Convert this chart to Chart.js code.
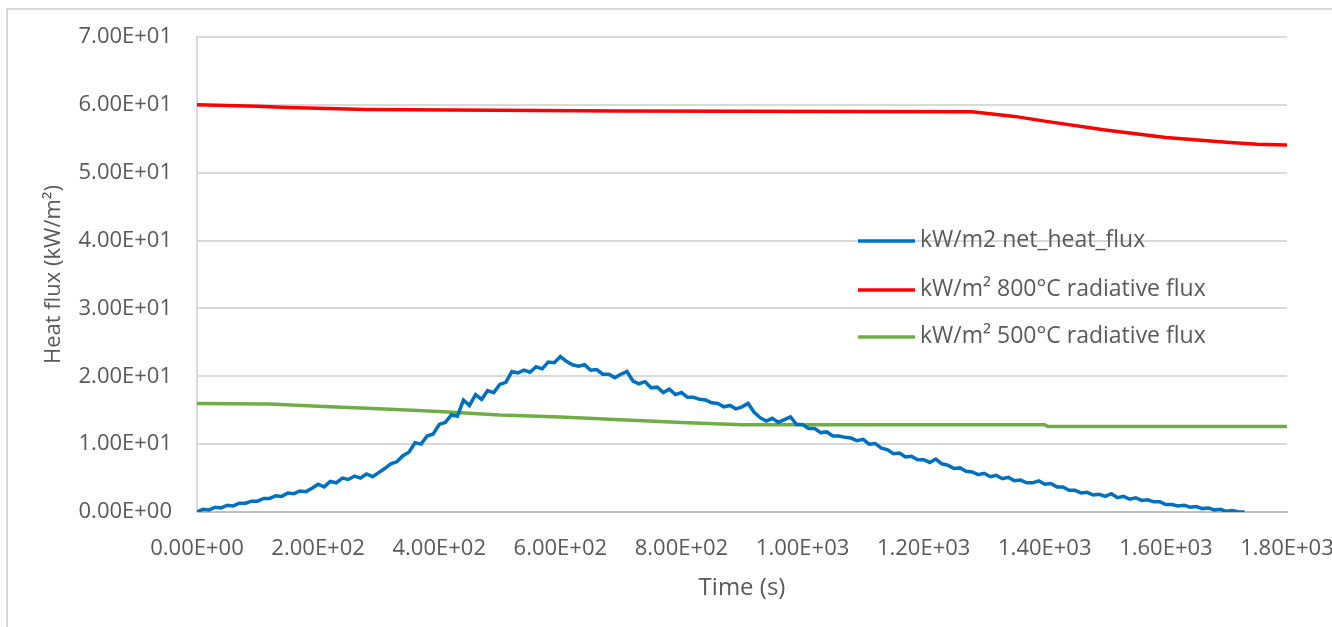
<!DOCTYPE html>
<html>
<head>
<meta charset="utf-8">
<script src="https://cdn.jsdelivr.net/npm/chart.js@4/dist/chart.umd.min.js"></script>
<style>
  html, body { margin: 0; padding: 0; background: #fff; overflow: hidden; }
  #wrap { position: relative; width: 1332px; height: 627px; }
  #frame { position: absolute; left: 6px; top: 8px; width: 1340px; height: 640px;
           border-left: 2px solid #d9d9d9; border-top: 2px solid #d9d9d9; }
  #myChart { position: absolute; left: 0; top: 0; }
</style>
</head>
<body>
<div id="wrap">
  <div id="frame"></div>
  <canvas id="myChart" width="1332" height="627"></canvas>
</div>
<script>
// Data

// net heat flux, every 10 s
const timeNet = [
  0, 10, 20, 30, 40, 50, 60, 70, 80, 90,
  100, 110, 120, 130, 140, 150, 160, 170, 180, 190,
  200, 210, 220, 230, 240, 250, 260, 270, 280, 290,
  300, 310, 320, 330, 340, 350, 360, 370, 380, 390,
  400, 410, 420, 430, 440, 450, 460, 470, 480, 490,
  500, 510, 520, 530, 540, 550, 560, 570, 580, 590,
  600, 610, 620, 630, 640, 650, 660, 670, 680, 690,
  700, 710, 720, 730, 740, 750, 760, 770, 780, 790,
  800, 810, 820, 830, 840, 850, 860, 870, 880, 890,
  900, 910, 920, 930, 940, 950, 960, 970, 980, 990,
  1000, 1010, 1020, 1030, 1040, 1050, 1060, 1070, 1080, 1090,
  1100, 1110, 1120, 1130, 1140, 1150, 1160, 1170, 1180, 1190,
  1200, 1210, 1220, 1230, 1240, 1250, 1260, 1270, 1280, 1290,
  1300, 1310, 1320, 1330, 1340, 1350, 1360, 1370, 1380, 1390,
  1400, 1410, 1420, 1430, 1440, 1450, 1460, 1470, 1480, 1490,
  1500, 1510, 1520, 1530, 1540, 1550, 1560, 1570, 1580, 1590,
  1600, 1610, 1620, 1630, 1640, 1650, 1660, 1670, 1680, 1690,
  1700, 1710, 1720, 1730
];
const netHeatFlux = [
  0.0, 0.4, 0.3, 0.7, 0.6, 1.0, 0.9, 1.3, 1.3, 1.6,
  1.6, 2.0, 2.0, 2.4, 2.3, 2.8, 2.7, 3.1, 3.0, 3.5,
  4.1, 3.7, 4.5, 4.3, 5.0, 4.8, 5.3, 5.0, 5.6, 5.2,
  5.8, 6.4, 7.1, 7.4, 8.3, 8.8, 10.2, 10.0, 11.2, 11.5,
  12.9, 13.2, 14.3, 14.1, 16.5, 15.7, 17.3, 16.6, 17.9, 17.6,
  18.8, 19.1, 20.7, 20.5, 20.9, 20.6, 21.4, 21.1, 22.1, 22.0,
  22.9, 22.2, 21.7, 21.5, 21.7, 20.9, 21.0, 20.3, 20.3, 19.8,
  20.3, 20.7, 19.3, 18.9, 19.2, 18.3, 18.4, 17.6, 18.1, 17.3,
  17.6, 16.9, 16.9, 16.6, 16.5, 16.1, 16.0, 15.5, 15.7, 15.2,
  15.5, 16.0, 14.7, 13.9, 13.4, 13.8, 13.2, 13.6, 14.0, 12.9,
  12.9, 12.3, 12.3, 11.7, 11.8, 11.2, 11.2, 11.0, 10.9, 10.5,
  10.7, 10.0, 10.1, 9.4, 9.2, 8.6, 8.7, 8.1, 8.2, 7.7,
  7.7, 7.3, 7.8, 7.1, 6.9, 6.4, 6.5, 6.0, 5.9, 5.5,
  5.7, 5.2, 5.4, 4.9, 5.1, 4.6, 4.7, 4.3, 4.3, 4.6,
  4.1, 4.2, 3.7, 3.7, 3.2, 3.2, 2.8, 2.9, 2.5, 2.6,
  2.3, 2.7, 2.1, 2.3, 1.9, 2.1, 1.7, 1.8, 1.5, 1.5,
  1.1, 1.1, 0.9, 1.0, 0.7, 0.8, 0.5, 0.6, 0.3, 0.4,
  0.1, 0.2, 0.0, 0.0
];

// 800 C radiative flux
const time800 = [0, 100, 150, 280, 700, 1280, 1350, 1400, 1500, 1600, 1700, 1750, 1800];
const flux800 = [60.0, 59.8, 59.6, 59.3, 59.1, 59.0, 58.3, 57.6, 56.3, 55.2, 54.5, 54.2, 54.1];

// 500 C radiative flux
const time500 = [0, 120, 200, 300, 400, 500, 600, 700, 800, 900, 1400, 1405, 1800];
const flux500 = [16.0, 15.9, 15.6, 15.2, 14.8, 14.3, 14.0, 13.6, 13.2, 12.85, 12.85, 12.6, 12.6];

const xTickValues = [0, 200, 400, 600, 800, 1000, 1200, 1400, 1600, 1800];
const yTickValues = [0, 10, 20, 30, 40, 50, 60, 70];

const seriesLabels = ["kW/m2 net_heat_flux", "kW/m² 800°C radiative flux", "kW/m² 500°C radiative flux"];
const seriesColors = ["#0070c0", "#ff0000", "#70ad47"];

const toPoints = (xs, ys) => xs.map((x, i) => ({ x: x, y: ys[i] }));

// Excel style 0.00E+00
const sci = (v) => {
  const parts = Number(v).toExponential(2).toUpperCase().split("E");
  const sign = parts[1][0] === "-" ? "-" : "+";
  const digits = parts[1].replace(/[+-]/, "").padStart(2, "0");
  return parts[0] + "E" + sign + digits;
};

const FONT = "'Open Sans', 'Noto Sans', sans-serif";
const GREY = "#595959";

// legend drawn inside the plot area
const insideLegend = {
  id: "insideLegend",
  afterDatasetsDraw(chart) {
    const ctx = chart.ctx;
    const area = chart.chartArea;
    const x0 = area.left + 661;
    const rows = [241, 290, 337];
    ctx.save();
    ctx.font = "23px " + FONT;
    ctx.textBaseline = "middle";
    ctx.fillStyle = GREY;
    seriesLabels.forEach((label, i) => {
      ctx.strokeStyle = seriesColors[i];
      ctx.lineWidth = 3.5;
      ctx.beginPath();
      ctx.moveTo(x0, rows[i]);
      ctx.lineTo(x0 + 57, rows[i]);
      ctx.stroke();
      ctx.fillText(label, x0 + 62, rows[i] - 1);
    });
    ctx.restore();
  }
};

const ctx = document.getElementById("myChart").getContext("2d");
const myChart = new Chart(ctx, {
  type: "line",
  data: {
    datasets: [
      { label: seriesLabels[0], data: toPoints(timeNet, netHeatFlux), borderColor: seriesColors[0], borderWidth: 3.5 },
      { label: seriesLabels[1], data: toPoints(time800, flux800), borderColor: seriesColors[1], borderWidth: 3.5 },
      { label: seriesLabels[2], data: toPoints(time500, flux500), borderColor: seriesColors[2], borderWidth: 3.5 }
    ]
  },
  options: {
    responsive: false,
    animation: false,
    parsing: false,
    elements: { point: { radius: 0 }, line: { tension: 0 } },
    layout: { padding: { top: 37, right: 45, left: 0, bottom: 0 } },
    plugins: { legend: { display: false }, tooltip: { enabled: false } },
    scales: {
      x: {
        type: "linear",
        min: 0,
        max: 1800,
        afterBuildTicks: (scale) => { scale.ticks = xTickValues.map(v => ({ value: v })); },
        afterFit: (scale) => { scale.height = 115; scale.paddingLeft = 0; scale.paddingRight = 0; },
        grid: { display: false, drawTicks: false },
        border: { display: true, color: "#bfbfbf", width: 2 },
        ticks: { padding: 24, color: GREY, font: { family: FONT, size: 22 }, maxRotation: 0, callback: sci },
        title: { display: true, text: "Time (s)", color: GREY, font: { family: FONT, size: 24 }, padding: { bottom: 24 } }
      },
      y: {
        min: 0,
        max: 70,
        afterBuildTicks: (scale) => { scale.ticks = yTickValues.map(v => ({ value: v })); },
        afterFit: (scale) => { scale.width = 197; scale.paddingTop = 0; scale.paddingBottom = 0; },
        grid: { color: "#d9d9d9", lineWidth: 2, drawTicks: false },
        border: { display: true, color: "#d9d9d9", width: 2 },
        ticks: { padding: 25, color: GREY, font: { family: FONT, size: 22 }, callback: sci },
        title: { display: true, text: "Heat flux (kW/m²)", color: GREY, font: { family: FONT, size: 22 }, padding: { top: 41 } }
      }
    }
  },
  plugins: [insideLegend]
});
</script>
</body>
</html>
